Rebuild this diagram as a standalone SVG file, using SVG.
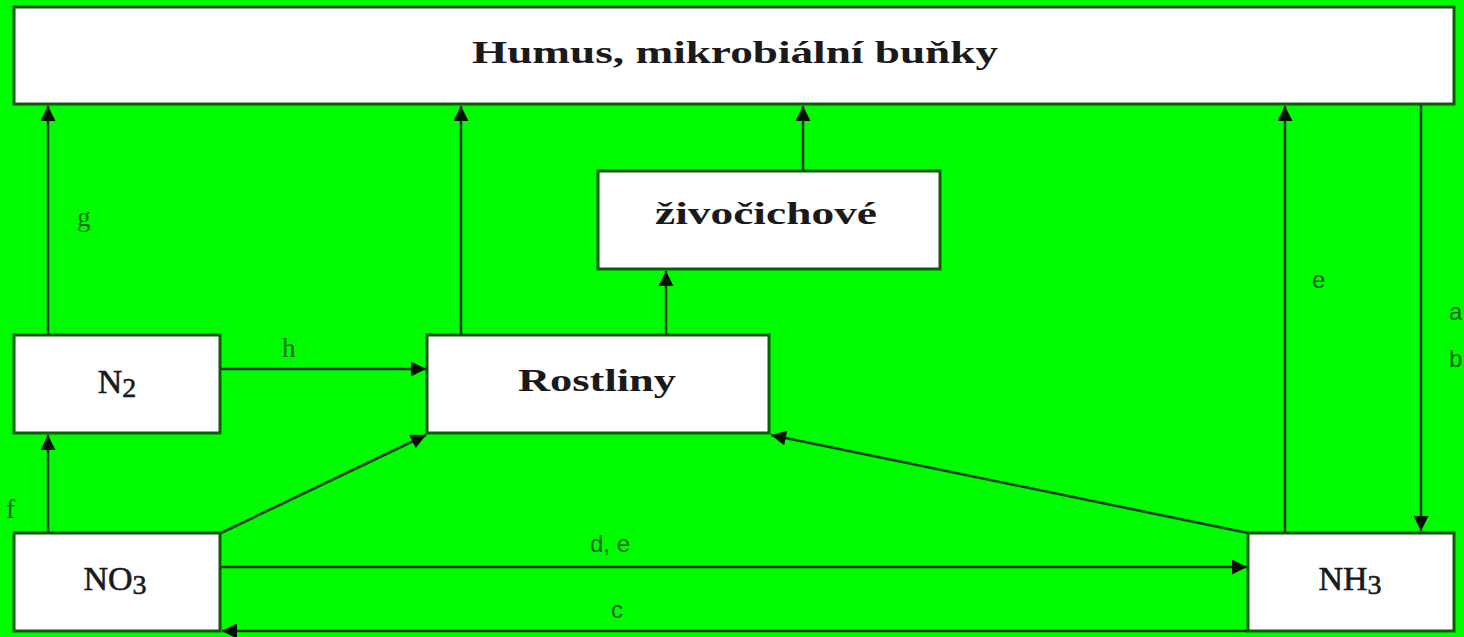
<svg xmlns="http://www.w3.org/2000/svg" width="1464" height="637" viewBox="0 0 1464 637">
<style>
.node{fill:#ffffff;stroke:#0c5a0c;stroke-width:3}
.bt{font-family:"Liberation Serif",serif;font-weight:bold;font-size:32px;fill:#1a1a1a;text-anchor:middle}
.rt{font-family:"Liberation Serif",serif;font-size:34px;fill:#1a1a1a;text-anchor:middle;stroke:#1a1a1a;stroke-width:0.6}
.c{stroke:#0a3c0a;stroke-width:2.5;fill:none;marker-end:url(#ah)}
.lbl{font-family:"Liberation Sans",sans-serif;font-size:24px;fill:#0a640a}
.lbls{font-family:"Liberation Serif",serif;font-size:27px;fill:#0a640a}
</style>
<defs>
<marker id="ah" viewBox="0 0 10 10" refX="10" refY="5" markerWidth="6.5" markerHeight="6" markerUnits="strokeWidth" orient="auto">
<path d="M0,0 L10,5 L0,10 Z" fill="#050f05"/>
</marker>
</defs>
<rect x="0" y="0" width="1464" height="637" fill="#00fc00"/>
<g id="connectors">
<line class="c" x1="48" y1="334" x2="48" y2="106"/>
<line class="c" x1="461" y1="335" x2="461" y2="106"/>
<line class="c" x1="666" y1="335" x2="666" y2="271"/>
<line class="c" x1="803" y1="171" x2="803" y2="106"/>
<line class="c" x1="1285" y1="532" x2="1285" y2="106"/>
<line class="c" x1="1421" y1="105" x2="1421" y2="531"/>
<line class="c" x1="221" y1="369" x2="426" y2="369"/>
<line class="c" x1="221" y1="533" x2="426" y2="435"/>
<line class="c" x1="1248" y1="533" x2="771" y2="435"/>
<line class="c" x1="48" y1="532" x2="48" y2="435"/>
<line class="c" x1="221" y1="567" x2="1247" y2="567"/>
<line class="c" x1="1248" y1="631" x2="222" y2="631"/>
<text class="lbls" x="77" y="226">g</text>
<text class="lbls" x="282" y="357">h</text>
<text class="lbls" x="6" y="518">f</text>
<text class="lbl" x="590" y="552">d, e</text>
<text class="lbl" x="611" y="618">c</text>
<text class="lbl" x="1312" y="288">e</text>
<text class="lbl" x="1449" y="320">a</text>
<text class="lbl" x="1449" y="367">b</text>
</g>
<g id="humus">
<rect class="node" x="14" y="7" width="1440" height="97"/>
<text class="bt" x="735" y="63" textLength="526" lengthAdjust="spacingAndGlyphs">Humus, mikrobiální buňky</text>
</g>
<g id="zivocichove">
<rect class="node" x="598" y="171" width="342" height="98"/>
<text class="bt" x="766" y="224" textLength="222" lengthAdjust="spacingAndGlyphs">živočichové</text>
</g>
<g id="n2">
<rect class="node" x="14" y="335" width="206" height="98"/>
<text class="rt" x="117" y="393">N<tspan font-size="28" dy="4">2</tspan></text>
</g>
<g id="rostliny">
<rect class="node" x="427" y="335" width="342" height="98"/>
<text class="bt" x="597" y="391" textLength="158" lengthAdjust="spacingAndGlyphs">Rostliny</text>
</g>
<g id="no3">
<rect class="node" x="14" y="533" width="206" height="98"/>
<text class="rt" x="115" y="590">NO<tspan font-size="28" dy="4">3</tspan></text>
</g>
<g id="nh3">
<rect class="node" x="1248" y="533" width="206" height="98"/>
<text class="rt" x="1350" y="590">NH<tspan font-size="28" dy="4">3</tspan></text>
</g>
</svg>
